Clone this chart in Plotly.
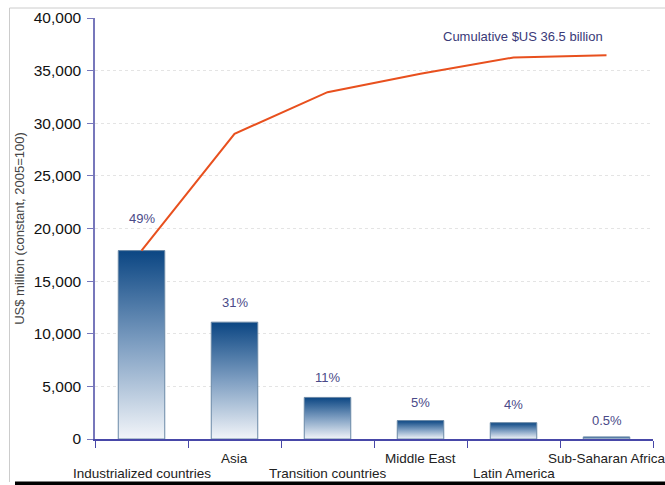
import plotly.graph_objects as go

categories = ["Industrialized countries", "Asia", "Transition countries",
              "Middle East", "Latin America", "Sub-Saharan Africa"]
values = [17900, 11100, 3950, 1750, 1550, 200]
cumulative = [17900, 29000, 32950, 34700, 36250, 36450]
pct_labels = ["49%", "31%", "11%", "5%", "4%", "0.5%"]
pct_shift = [32, 20, 20, 18, 18, 16]
y_ticks = [0, 5000, 10000, 15000, 20000, 25000, 30000, 35000, 40000]
cum_note = "Cumulative $US 36.5 billion"

FONT = "Liberation Sans, Arial, sans-serif"
HALF = 0.25

fig = go.Figure()

# gradient bars (scatter polygons with vertical fill gradient)
for i, v in enumerate(values):
    fig.add_trace(go.Scatter(
        x=[i - HALF, i + HALF, i + HALF, i - HALF, i - HALF],
        y=[0, 0, v, v, 0],
        mode="lines", fill="toself",
        line=dict(color="#6a88a6", width=1),
        fillgradient=dict(type="vertical",
                          colorscale=[[0, "#f2f5f9"], [0.5, "#7f9fc2"], [1, "#0b4683"]]),
        hoverinfo="skip", showlegend=False))

# cumulative line
fig.add_trace(go.Scatter(
    x=list(range(len(categories))), y=cumulative, mode="lines",
    line=dict(color="#e8501e", width=2), showlegend=False))

# percentage labels
for i, (v, t) in enumerate(zip(values, pct_labels)):
    fig.add_annotation(x=i, y=v, text=t, showarrow=False, yshift=pct_shift[i],
                       font=dict(family=FONT, size=13, color="#4a4a88"))

fig.add_annotation(x=4.1, y=cumulative[-1], text=cum_note, showarrow=False,
                   yshift=19, font=dict(family=FONT, size=13, color="#3a3a78"))

# staggered category labels
for i, c in enumerate(categories):
    fig.add_annotation(x=i, y=0, text=c, showarrow=False,
                       yshift=-34 if i % 2 == 0 else -19,
                       font=dict(family=FONT, size=13.5, color="#222222"))

fig.update_layout(
    width=665, height=485,
    margin=dict(l=95, r=12, t=18, b=46, autoexpand=False),
    paper_bgcolor="white", plot_bgcolor="white",
    font=dict(family=FONT, color="#222222"),
    xaxis=dict(range=[-0.5, 5.5], automargin=False,
               showticklabels=False, ticks="", showgrid=False, zeroline=False,
               showline=True, linecolor="#4848a8", linewidth=1.5,
               minor=dict(tickmode="array",
                          tickvals=[k - 0.5 for k in range(len(categories) + 1)],
                          ticks="outside", ticklen=7, tickcolor="#4848a8",
                          tickwidth=1, showgrid=False)),
    yaxis=dict(range=[0, 40000], tickmode="array", tickvals=y_ticks, automargin=False,
               tickformat=",d", ticks="outside", ticklen=6, tickcolor="#7777bb",
               showline=True, linecolor="#7777bb", linewidth=1.5,
               showgrid=True, gridcolor="#e4e4e4", griddash="dot", gridwidth=1,
               zeroline=False, ticklabelstandoff=3,
               tickfont=dict(family=FONT, size=15.5, color="#111111"),
               title=dict(text="US$ million (constant, 2005=100)",
                          font=dict(family=FONT, size=13, color="#444444"),
                          standoff=6)),
)

# frame artifacts of the reference picture
PW, PH = 558.0, 421.0
def px(xp): return (xp - 95) / PW
def py(yp): return (439 - yp) / PH
fig.add_shape(type="line", xref="paper", yref="paper", x0=px(9.5), x1=px(9.5),
              y0=py(8), y1=py(482), line=dict(color="#cccccc", width=1))
fig.add_shape(type="line", xref="paper", yref="paper", x0=px(9.5), x1=px(665),
              y0=py(8), y1=py(8), line=dict(color="#cccccc", width=1))
fig.add_shape(type="rect", xref="paper", yref="paper", x0=px(15), x1=px(666),
              y0=py(481.5), y1=py(486), line=dict(width=0), fillcolor="black")

fig.write_html("out.html")
